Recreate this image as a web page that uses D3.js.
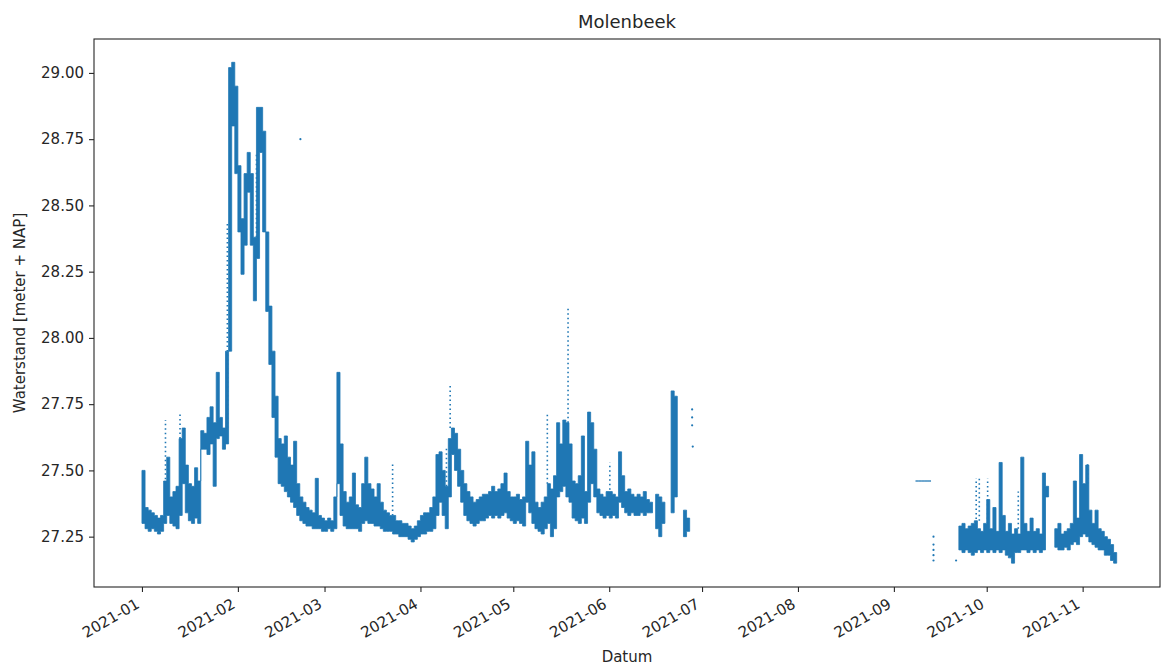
<!DOCTYPE html>
<html>
<head>
<meta charset="utf-8">
<script src="https://cdn.jsdelivr.net/npm/d3@7"></script>
<style>
  body { margin: 0; background: #fff; }
  text { font-family: "DejaVu Sans", sans-serif; fill: #262626; }
</style>
</head>
<body>
<svg id="chart" width="1161" height="669"></svg>
<script>
// Water level at Molenbeek, 2021 — daily low/high readings (m + NAP), index 0 = 1 January.
const seriesStart = "2021-01-01";

const lo = [
  // Jan
  27.30,27.28,27.27,27.28,27.27,27.26,27.27,27.30,27.33,27.30,
  27.29,27.28,27.33,27.45,27.34,27.31,27.30,27.32,27.30,27.58,
  27.58,27.56,27.60,27.44,27.62,27.63,27.58,27.60,27.95,28.80,
  28.62,
  // Feb
  28.40,28.24,28.35,28.55,28.35,28.14,28.30,28.70,28.40,
  28.10,27.90,27.70,27.55,27.45,27.44,27.42,27.40,27.38,27.36,
  27.33,27.31,27.30,27.29,27.29,27.28,27.28,27.28,27.27,
  // Mar
  27.27,27.28,27.27,27.28,27.45,27.33,27.29,27.28,27.28,27.28,27.28,
  27.27,27.30,27.31,27.30,27.30,27.29,27.29,27.28,27.27,27.27,
  27.27,27.26,27.26,27.25,27.25,27.25,27.24,27.23,27.24,27.25,
  // Apr
  27.26,27.26,27.27,27.27,27.28,27.33,27.38,27.33,27.28,27.40,
  27.56,27.50,27.44,27.38,27.33,27.31,27.30,27.29,27.30,27.31,
  27.31,27.32,27.33,27.32,27.33,27.32,27.33,27.34,27.32,27.31,
  // May
  27.30,27.31,27.30,27.29,27.38,27.34,27.30,27.28,27.27,27.26,
  27.28,27.30,27.25,27.28,27.40,27.42,27.44,27.40,27.38,27.32,
  27.31,27.30,27.32,27.30,27.38,27.45,27.40,27.34,27.33,27.32,
  27.33,
  // Jun
  27.32,27.33,27.32,27.38,27.36,27.34,27.33,27.34,27.33,
  27.33,27.34,27.33,27.34,27.34,null,27.28,27.25,27.30,null,
  null,27.34,27.40,null,null,27.25,27.27,null,null,null,
  null,
  // Jul
  null,null,null,null,null,null,null,null,null,null,
  null,null,null,null,null,null,null,null,null,null,
  null,null,null,null,null,null,null,null,null,null,
  null,
  // Aug
  null,null,null,null,null,null,null,null,null,null,
  null,null,null,null,null,null,null,null,null,null,
  null,null,null,null,null,null,null,null,null,null,
  null,
  // Sep
  null,null,null,null,null,null,null,27.46,27.46,27.46,
  27.46,27.46,null,null,null,null,null,null,null,null,
  null,27.20,27.19,27.20,27.19,27.18,27.19,27.20,27.19,27.20,
  // Oct
  27.19,27.20,27.19,27.20,27.19,27.20,27.18,27.17,27.15,27.19,
  27.19,27.20,27.20,27.19,27.20,27.19,27.20,27.19,27.20,27.40,
  null,null,27.21,27.20,27.20,27.21,27.20,27.22,27.23,27.22,
  27.25,
  // Nov
  27.26,27.25,27.23,27.22,27.21,27.20,27.20,27.18,27.18,27.16,
  27.15
];

const hi = [
  // Jan
  27.50,27.36,27.35,27.34,27.33,27.32,27.33,27.46,27.55,27.40,
  27.42,27.44,27.62,27.66,27.52,27.45,27.44,27.51,27.46,27.65,
  27.64,27.70,27.74,27.68,27.87,27.70,27.66,27.95,29.02,29.04,
  28.95,
  // Feb
  28.65,28.45,28.62,28.70,28.62,28.38,28.87,28.87,28.78,
  28.40,28.12,27.95,27.78,27.62,27.60,27.63,27.55,27.52,27.61,
  27.45,27.40,27.38,27.36,27.35,27.34,27.47,27.33,27.32,
  // Mar
  27.31,27.32,27.31,27.40,27.87,27.60,27.42,27.38,27.40,27.49,27.37,
  27.36,27.45,27.55,27.45,27.43,27.40,27.45,27.38,27.35,27.34,
  27.33,27.33,27.31,27.31,27.30,27.30,27.29,27.28,27.29,27.31,
  // Apr
  27.33,27.34,27.34,27.36,27.40,27.56,27.57,27.50,27.44,27.62,
  27.66,27.64,27.58,27.50,27.45,27.42,27.40,27.38,27.39,27.40,
  27.41,27.41,27.42,27.44,27.42,27.43,27.45,27.49,27.42,27.40,
  // May
  27.40,27.41,27.39,27.40,27.61,27.52,27.57,27.38,27.36,27.38,
  27.40,27.45,27.43,27.48,27.68,27.60,27.69,27.68,27.60,27.46,
  27.45,27.48,27.63,27.42,27.72,27.68,27.58,27.43,27.41,27.40,
  27.42,
  // Jun
  27.42,27.41,27.40,27.57,27.48,27.42,27.43,27.41,27.40,
  27.41,27.40,27.42,27.39,27.38,null,27.41,27.40,27.38,null,
  null,27.80,27.78,null,null,27.35,27.32,null,null,null,
  null,
  // Jul
  null,null,null,null,null,null,null,null,null,null,
  null,null,null,null,null,null,null,null,null,null,
  null,null,null,null,null,null,null,null,null,null,
  null,
  // Aug
  null,null,null,null,null,null,null,null,null,null,
  null,null,null,null,null,null,null,null,null,null,
  null,null,null,null,null,null,null,null,null,null,
  null,
  // Sep
  null,null,null,null,null,null,null,27.46,27.46,27.46,
  27.46,27.46,null,null,null,null,null,null,null,null,
  null,27.29,27.30,27.28,27.29,27.30,27.31,27.28,27.27,27.30,
  // Oct
  27.39,27.28,27.36,27.27,27.53,27.33,27.27,27.30,27.26,27.28,
  27.26,27.55,27.30,27.27,27.32,27.27,27.28,27.26,27.49,27.44,
  null,null,27.28,27.30,27.26,27.27,27.28,27.30,27.46,27.32,
  27.56,
  // Nov
  27.45,27.52,27.35,27.30,27.35,27.28,27.27,27.25,27.24,27.22,
  27.19
];

// Rapid rises sampled sparsely: [day index, from, to]
const sparseRises = [
  [7.6, 27.45, 27.69], [12.3, 27.62, 27.72], [27.6, 27.66, 28.44],
  [37.0, 28.38, 28.70], [81.0, 27.33, 27.53],
  [98.4, 27.44, 27.59], [99.6, 27.66, 27.83], [131.0, 27.45, 27.72],
  [137.7, 27.68, 28.11], [151.2, 27.41, 27.53], [269.6, 27.30, 27.47],
  [270.6, 27.31, 27.48], [273.3, 27.30, 27.47], [283.2, 27.28, 27.42],
  [305.6, 27.45, 27.53]
];

// Isolated readings: [day index, value]
const isolated = [
  [51.2, 28.75], [177.8, 27.73], [177.8, 27.70], [177.8, 27.67], [178.0, 27.59],
  [255.8, 27.25], [255.8, 27.22], [255.8, 27.20], [255.8, 27.18], [255.8, 27.16],
  [263.1, 27.16]
];

const yTicks = [27.25, 27.50, 27.75, 28.00, 28.25, 28.50, 28.75, 29.00];
const xTickLabels = ["2021-01","2021-02","2021-03","2021-04","2021-05","2021-06",
                     "2021-07","2021-08","2021-09","2021-10","2021-11"];
const xLimits = ["2020-12-16T12:00:00Z", "2021-11-26T00:00:00Z"];
const yLimits = [27.06, 29.128];

const DAY = 86400000;
const t0 = new Date(seriesStart + "T00:00:00Z").getTime();
const dayDate = d => new Date(t0 + d * DAY);

const plot = { left: 94, top: 39, right: 1160, bottom: 587 };
const blue = "#1f77b4";

const svg = d3.select("#chart");

const x = d3.scaleUtc()
  .domain(xLimits.map(s => new Date(s)))
  .range([plot.left, plot.right]);
const y = d3.scaleLinear()
  .domain(yLimits)
  .range([plot.bottom, plot.top]);

// Each day spans [day, day+1) at its low..high range; gaps stay empty
const steps = [];
lo.forEach((l, i) => {
  steps.push({ t: dayDate(i), lo: l, hi: hi[i] });
  steps.push({ t: dayDate(i + 1), lo: l, hi: hi[i] });
});

svg.append("clipPath").attr("id", "plotclip")
  .append("rect")
  .attr("x", plot.left).attr("y", plot.top)
  .attr("width", plot.right - plot.left).attr("height", plot.bottom - plot.top);

const g = svg.append("g").attr("clip-path", "url(#plotclip)");

const band = d3.area()
  .defined(d => d.lo != null)
  .x(d => x(d.t))
  .y0(d => y(d.lo))
  .y1(d => y(d.hi));

g.append("path")
  .datum(steps)
  .attr("fill", blue)
  .attr("stroke", blue)
  .attr("stroke-width", 0.8)
  .attr("stroke-linejoin", "miter")
  .attr("d", band);

g.selectAll("line.rise")
  .data(sparseRises)
  .join("line")
  .attr("class", "rise")
  .attr("x1", d => x(dayDate(d[0])))
  .attr("x2", d => x(dayDate(d[0])))
  .attr("y1", d => y(d[1]))
  .attr("y2", d => y(d[2]))
  .attr("stroke", blue)
  .attr("stroke-width", 1.6)
  .attr("stroke-dasharray", "1.5,3");

g.selectAll("circle.iso")
  .data(isolated)
  .join("circle")
  .attr("class", "iso")
  .attr("cx", d => x(dayDate(d[0])))
  .attr("cy", d => y(d[1]))
  .attr("r", 1.1)
  .attr("fill", blue);

// Axes
const yAxis = d3.axisLeft(y)
  .tickValues(yTicks)
  .tickFormat(d3.format(".2f"))
  .tickSize(5)
  .tickPadding(5);
const gy = svg.append("g")
  .attr("transform", `translate(${plot.left},0)`)
  .call(yAxis);
gy.select(".domain").remove();
gy.selectAll(".tick line").attr("stroke", "#262626").attr("stroke-width", 1.1);
gy.selectAll(".tick text").attr("font-size", 15).attr("font-family", "DejaVu Sans").attr("fill", "#262626");

const xAxis = d3.axisBottom(x)
  .tickValues(xTickLabels.map(s => new Date(s + "-01T00:00:00Z")))
  .tickFormat(d3.utcFormat("%Y-%m"))
  .tickSize(5);
const gx = svg.append("g")
  .attr("transform", `translate(0,${plot.bottom})`)
  .call(xAxis);
gx.select(".domain").remove();
gx.selectAll(".tick line").attr("stroke", "#262626").attr("stroke-width", 1.1);
gx.selectAll(".tick text")
  .attr("font-size", 15)
  .attr("font-family", "DejaVu Sans")
  .attr("fill", "#262626")
  .attr("text-anchor", "end")
  .attr("x", 0).attr("y", 0).attr("dy", null)
  .attr("transform", "translate(-2,20) rotate(-30)");

// Frame
svg.append("rect")
  .attr("x", plot.left).attr("y", plot.top)
  .attr("width", plot.right - plot.left).attr("height", plot.bottom - plot.top)
  .attr("fill", "none")
  .attr("stroke", "#262626")
  .attr("stroke-width", 1.1);

// Titles
svg.append("text")
  .attr("x", (plot.left + plot.right) / 2).attr("y", 28)
  .attr("text-anchor", "middle")
  .attr("font-size", 18)
  .text("Molenbeek");

svg.append("text")
  .attr("x", (plot.left + plot.right) / 2).attr("y", 662)
  .attr("text-anchor", "middle")
  .attr("font-size", 15)
  .text("Datum");

svg.append("text")
  .attr("transform", `translate(25,${(plot.top + plot.bottom) / 2}) rotate(-90)`)
  .attr("text-anchor", "middle")
  .attr("font-size", 15)
  .text("Waterstand [meter + NAP]");
</script>
</body>
</html>
